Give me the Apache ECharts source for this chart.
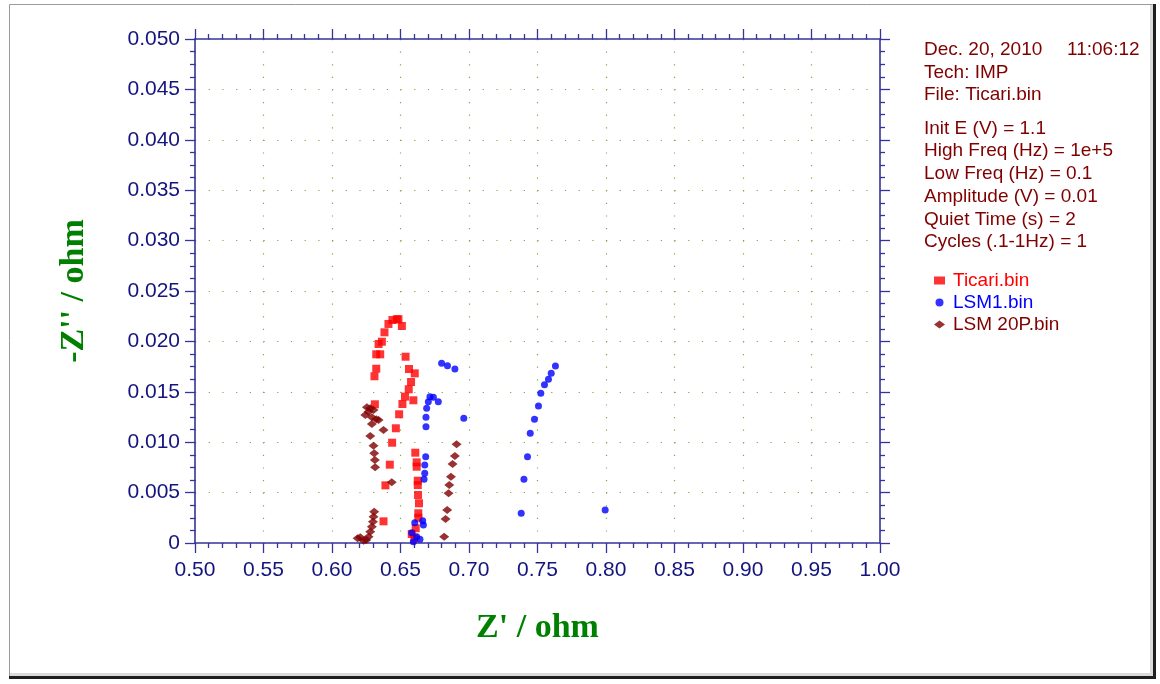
<!DOCTYPE html>
<html>
<head>
<meta charset="utf-8">
<title>Impedance - Nyquist plot</title>
<script src="https://cdn.jsdelivr.net/npm/echarts@6/dist/echarts.min.js"></script>
<style>
  html, body { margin: 0; padding: 0; background: #ffffff; }
  #chart { width: 1160px; height: 684px; }
</style>
</head>
<body>
<div id="chart"></div>
<script>
// Axis ranges and tick steps (ohm)
const xRange = [0.5, 1.0];
const xStep = 0.05;
const yRange = [0, 0.05];
const yStep = 0.005;

// Ticari.bin : Z' (x) and -Z'' (y)
const ticariX = [0.6601, 0.6582, 0.6611, 0.6630, 0.6630, 0.6635, 0.6628, 0.6626, 0.6626, 0.6618, 0.6618, 0.6608,
                 0.6376, 0.6390, 0.6422, 0.6439, 0.6466, 0.6490, 0.6514, 0.6533, 0.6594, 0.6560, 0.6577, 0.6604,
                 0.6562, 0.6537, 0.6510, 0.6485, 0.6473, 0.6441, 0.6412, 0.6383, 0.6364, 0.6340, 0.6352, 0.6323,
                 0.6323, 0.6310, 0.6313];
const ticariY = [0.00046, 0.00089, 0.00146, 0.00250, 0.00295, 0.00394, 0.00476, 0.00575, 0.00618, 0.00757, 0.00800, 0.00896,
                 0.00215, 0.00572, 0.00777, 0.00995, 0.01138, 0.01277, 0.01379, 0.01452, 0.01416, 0.01525, 0.01597, 0.01683,
                 0.01726, 0.01848, 0.02153, 0.02220, 0.02220, 0.02212, 0.02173, 0.02090, 0.01997, 0.01974, 0.01872, 0.01872,
                 0.01729, 0.01654, 0.01376];

// LSM1.bin
const lsm1X = [0.6594, 0.6642, 0.6618, 0.6582, 0.6667, 0.6662, 0.6604, 0.6672, 0.6677, 0.6677, 0.6684,
               0.6686, 0.6686, 0.6691, 0.6703, 0.6715, 0.6740, 0.6776, 0.6962, 0.6800, 0.6843, 0.6897,
               0.7381, 0.7401, 0.7427, 0.7447, 0.7478, 0.7507, 0.7524, 0.7551, 0.7580, 0.7600, 0.7631,
               0.7994];
const lsm1Y = [0.00013, 0.00037, 0.00063, 0.00102, 0.00179, 0.00221, 0.00201, 0.00632, 0.00691, 0.00774, 0.00856,
               0.01154, 0.01247, 0.01336, 0.01402, 0.01452, 0.01445, 0.01402, 0.01237, 0.01783, 0.01759, 0.01726,
               0.00295, 0.00632, 0.00856, 0.01088, 0.01227, 0.01359, 0.01485, 0.01570, 0.01624, 0.01683, 0.01756,
               0.00327];

// LSM 20P.bin
const lsm20pX = [0.6187, 0.6206, 0.6231, 0.6250, 0.6267, 0.6279, 0.6291, 0.6299, 0.6303, 0.6308,
                 0.6436, 0.6315, 0.6313, 0.6308, 0.6303, 0.6279, 0.6376, 0.6291, 0.6340, 0.6323,
                 0.6291, 0.6243, 0.6267, 0.6303, 0.6279, 0.6255,
                 0.6819, 0.6829, 0.6841, 0.6851, 0.6856, 0.6868, 0.6880, 0.6897, 0.6909];
const lsm20pY = [0.00047, 0.00057, 0.00023, 0.00030, 0.00063, 0.00112, 0.00162, 0.00211, 0.00261, 0.00311,
                 0.00602, 0.00751, 0.00823, 0.00890, 0.00965, 0.01062, 0.01121, 0.01181, 0.01220, 0.01227,
                 0.01247, 0.01270, 0.01303, 0.01319, 0.01336, 0.01346,
                 0.00063, 0.00238, 0.00327, 0.00493, 0.00575, 0.00658, 0.00784, 0.00863, 0.00979];

// Legend names and colours
const seriesNames = ['Ticari.bin', 'LSM1.bin', 'LSM 20P.bin'];
const seriesColors = ['#ff0000', '#0000ff', '#800000'];

// Experiment header printed beside the plot
const headerDate = 'Dec. 20, 2010';
const headerTime = '11:06:12';
const headerLines = ['Tech: IMP', 'File: Ticari.bin'];
const paramLines = ['Init E (V) = 1.1', 'High Freq (Hz) = 1e+5', 'Low Freq (Hz) = 0.1',
                    'Amplitude (V) = 0.01', 'Quiet Time (s) = 2', 'Cycles (.1-1Hz) = 1'];

const pairs = (xs, ys) => xs.map((x, i) => [x, ys[i]]);

const axisColor = '#34349c';
const labelColor = '#14147e';
const gridDotColor = '#7fa84a';
const infoColor = '#800000';
const infoFont = '19px "Liberation Sans", Arial, sans-serif';

const chart = echarts.init(document.getElementById('chart'), null, { renderer: 'canvas' });

function frameAxis(extra) {
  return Object.assign({
    type: 'value',
    axisLine: { show: true, onZero: false, lineStyle: { color: axisColor, width: 1.6 } },
    axisTick: { show: true, inside: false, length: 10, lineStyle: { color: axisColor, width: 1.3 } },
    splitLine: { show: false },
    axisLabel: { show: false }
  }, extra);
}

const infoGraphics = [];
infoGraphics.push({ type: 'text', left: 924, top: 40, style: { text: headerDate, font: infoFont, fill: infoColor } });
infoGraphics.push({ type: 'text', left: 1067, top: 40, style: { text: headerTime, font: infoFont, fill: infoColor } });
headerLines.forEach((t, i) => {
  infoGraphics.push({ type: 'text', left: 924, top: 63 + i * 22.5, style: { text: t, font: infoFont, fill: infoColor } });
});
paramLines.forEach((t, i) => {
  infoGraphics.push({ type: 'text', left: 924, top: 119 + i * 22.7, style: { text: t, font: infoFont, fill: infoColor } });
});

// Window-style frame around the whole figure
const frameGraphics = [
  { type: 'rect', shape: { x: 9.5, y: 4.5, width: 1143, height: 672 }, style: { fill: 'none', stroke: '#9a9a9a', lineWidth: 1 }, z: 0 },
  { type: 'rect', shape: { x: 1150, y: 5, width: 3, height: 671 }, style: { fill: '#dadada' }, z: 0 },
  { type: 'rect', shape: { x: 10, y: 673, width: 1143, height: 3 }, style: { fill: '#dadada' }, z: 0 },
  { type: 'rect', shape: { x: 1153, y: 4, width: 3, height: 675 }, style: { fill: '#1e1e1e' }, z: 0 },
  { type: 'rect', shape: { x: 9, y: 676, width: 1147, height: 3 }, style: { fill: '#1e1e1e' }, z: 0 }
];

const option = {
  backgroundColor: '#ffffff',
  animation: false,
  grid: { left: 195, top: 39, width: 685, height: 504, containLabel: false },
  xAxis: [
    frameAxis({
      position: 'bottom',
      min: xRange[0], max: xRange[1], interval: xStep,
      name: "Z' / ohm",
      nameLocation: 'middle',
      nameGap: 68,
      nameTextStyle: { color: '#008000', fontFamily: '"Liberation Serif", "Times New Roman", serif', fontWeight: 'bold', fontSize: 34 },
      minorTick: { show: true, splitNumber: 5, length: 5, lineStyle: { color: axisColor, width: 1.3 } },
      axisLabel: {
        show: true, margin: 17, color: labelColor, fontSize: 21,
        fontFamily: '"Liberation Sans", Arial, sans-serif',
        formatter: v => v.toFixed(2)
      },
      splitLine: {
        show: true,
        lineStyle: { color: gridDotColor, width: 1.2, type: [1.2, 11.4] }
      }
    }),
    frameAxis({
      position: 'top',
      min: xRange[0], max: xRange[1], interval: xStep,
      minorTick: { show: true, splitNumber: 5, length: 5, lineStyle: { color: axisColor, width: 1.3 } }
    })
  ],
  yAxis: [
    frameAxis({
      position: 'left',
      min: yRange[0], max: yRange[1], interval: yStep,
      name: "-Z'' / ohm",
      nameLocation: 'middle',
      nameGap: 104,
      nameTextStyle: { color: '#008000', fontFamily: '"Liberation Serif", "Times New Roman", serif', fontWeight: 'bold', fontSize: 34 },
      minorTick: { show: true, splitNumber: 4, length: 5, lineStyle: { color: axisColor, width: 1.3 } },
      axisLabel: {
        show: true, margin: 15, color: labelColor, fontSize: 21,
        fontFamily: '"Liberation Sans", Arial, sans-serif',
        formatter: v => (v === 0 ? '0' : v.toFixed(3))
      },
      splitLine: {
        show: true,
        lineStyle: { color: gridDotColor, width: 1.2, type: [1.2, 12.5] }
      }
    }),
    frameAxis({
      position: 'right',
      min: yRange[0], max: yRange[1], interval: yStep,
      minorTick: { show: true, splitNumber: 4, length: 5, lineStyle: { color: axisColor, width: 1.3 } }
    })
  ],
  legend: {
    orient: 'vertical',
    left: 929,
    top: 266,
    itemGap: 3,
    itemWidth: 11,
    itemHeight: 8,
    selectedMode: false,
    textStyle: { fontSize: 19, fontFamily: '"Liberation Sans", Arial, sans-serif', padding: [0, 0, 0, 3] },
    data: [
      { name: seriesNames[0], icon: 'rect', textStyle: { color: seriesColors[0] } },
      { name: seriesNames[1], icon: 'circle', textStyle: { color: seriesColors[1] } },
      { name: seriesNames[2], icon: 'diamond', textStyle: { color: seriesColors[2] } }
    ]
  },
  graphic: frameGraphics.concat(infoGraphics),
  series: [
    {
      name: seriesNames[0], type: 'scatter', xAxisIndex: 0, yAxisIndex: 0,
      symbol: 'rect', symbolSize: 8,
      itemStyle: { color: seriesColors[0] },
      data: pairs(ticariX, ticariY)
    },
    {
      name: seriesNames[1], type: 'scatter', xAxisIndex: 0, yAxisIndex: 0,
      symbol: 'circle', symbolSize: 7,
      itemStyle: { color: seriesColors[1] },
      data: pairs(lsm1X, lsm1Y)
    },
    {
      name: seriesNames[2], type: 'scatter', xAxisIndex: 0, yAxisIndex: 0,
      symbol: 'diamond', symbolSize: [10, 8],
      itemStyle: { color: seriesColors[2] },
      data: pairs(lsm20pX, lsm20pY)
    }
  ]
};

chart.setOption(option);
</script>
</body>
</html>
